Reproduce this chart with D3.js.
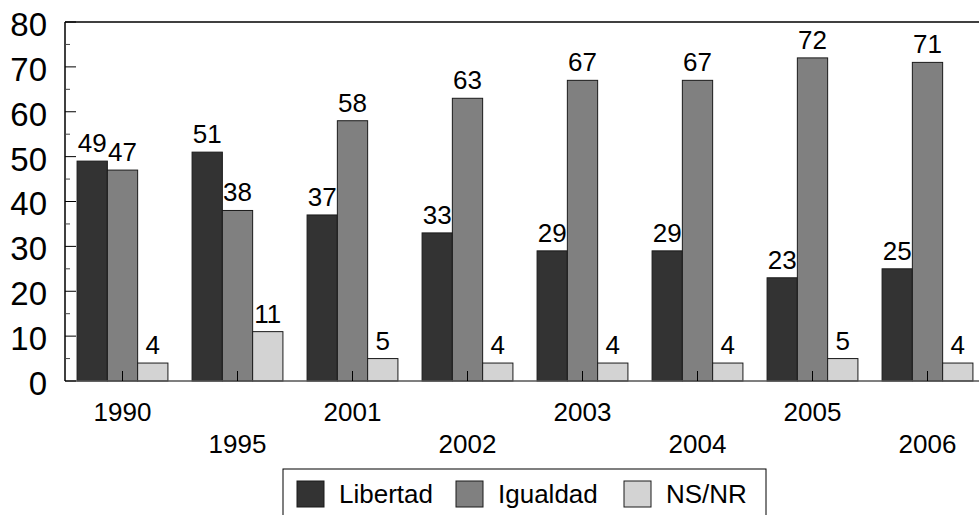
<!DOCTYPE html>
<meta charset="utf-8">
<style>
body { margin: 0; background: #fff; }
text { font-family: "Liberation Sans", Arial, sans-serif; fill: #000; }
</style>
<body>
<script src="https://d3js.org/d3.v7.min.js"></script>
<script>

// data
var years = ["1990", "1995", "2001", "2002", "2003", "2004", "2005", "2006"];
var series = ["Libertad", "Igualdad", "NS/NR"];
var libertad = [49, 51, 37, 33, 29, 29, 23, 25];
var igualdad = [47, 38, 58, 63, 67, 67, 72, 71];
var nsnr = [4, 11, 5, 4, 4, 4, 5, 4];
var yTicks = [0, 10, 20, 30, 40, 50, 60, 70, 80];
var colors = ["#333333", "#808080", "#d3d3d3"];

var values = [libertad, igualdad, nsnr];

var margin = {top: 22, left: 65},
    width = 920, height = 359;

var svg = d3.select("body").append("svg")
    .attr("width", 979).attr("height", 515);

var g = svg.append("g")
    .attr("transform", "translate(" + margin.left + "," + margin.top + ")");

var x0 = d3.scaleBand().domain(years).range([0, width]).paddingInner(0.21).paddingOuter(0.105);
var x1 = d3.scaleBand().domain(series).range([0, x0.bandwidth()]);
var y = d3.scaleLinear().domain([0, 80]).range([height, 0]);

// frame top line
g.append("line").attr("x1", 0).attr("x2", width + 10).attr("y1", 0).attr("y2", 0)
    .attr("stroke", "#000").attr("stroke-width", 1.5);

// bars
var groups = g.selectAll(".grp").data(years).enter().append("g")
    .attr("transform", function (d) { return "translate(" + x0(d) + ",0)"; });

series.forEach(function (s, si) {
    groups.append("rect")
        .attr("x", x1(s))
        .attr("width", x1.bandwidth())
        .attr("y", function (d, i) { return y(values[si][i]); })
        .attr("height", function (d, i) { return height - y(values[si][i]); })
        .attr("fill", colors[si])
        .attr("stroke", "#1a1a1a").attr("stroke-width", 1);
    groups.append("text")
        .attr("x", x1(s) + x1.bandwidth() / 2)
        .attr("y", function (d, i) { return y(values[si][i]) - 9; })
        .attr("text-anchor", "middle")
        .attr("font-size", 26)
        .text(function (d, i) { return values[si][i]; });
});

// x axis
g.append("line").attr("x1", 0).attr("x2", width + 10).attr("y1", height).attr("y2", height)
    .attr("stroke", "#555").attr("stroke-width", 1.5);
g.selectAll(".xtick").data(years).enter().append("line")
    .attr("x1", function (d) { return x0(d) + x0.bandwidth() / 2; })
    .attr("x2", function (d) { return x0(d) + x0.bandwidth() / 2; })
    .attr("y1", height - 10).attr("y2", height)
    .attr("stroke", "#000");
g.selectAll(".xlab").data(years).enter().append("text")
    .attr("x", function (d) { return x0(d) + x0.bandwidth() / 2; })
    .attr("y", function (d, i) { return height + (i % 2 ? 62.5 : 31); })
    .attr("dy", "0.36em")
    .attr("text-anchor", "middle").attr("font-size", 26)
    .text(function (d) { return d; });

// y axis
g.append("line").attr("x1", 0).attr("x2", 0).attr("y1", 0).attr("y2", height)
    .attr("stroke", "#000").attr("stroke-width", 1.5);
var minor = d3.range(5, 80, 10);
g.selectAll(".minor").data(minor).enter().append("line")
    .attr("x1", 0).attr("x2", 5).attr("y1", function (d) { return y(d); }).attr("y2", function (d) { return y(d); })
    .attr("stroke", "#444");
g.selectAll(".major").data(yTicks).enter().append("line")
    .attr("x1", 0).attr("x2", 11).attr("y1", function (d) { return y(d); }).attr("y2", function (d) { return y(d); })
    .attr("stroke", "#000");
g.selectAll(".ylab").data(yTicks).enter().append("text")
    .attr("x", -18).attr("y", function (d) { return y(d) + 2; })
    .attr("dy", "0.36em")
    .attr("text-anchor", "end").attr("font-size", 33)
    .text(function (d) { return d; });

// legend
var lg = svg.append("g").attr("transform", "translate(283,469)");
lg.append("rect").attr("width", 483).attr("height", 60)
    .attr("fill", "#fff").attr("stroke", "#000").attr("stroke-width", 1);
var lx = [14, 173, 341];
series.forEach(function (s, i) {
    lg.append("rect").attr("x", lx[i]).attr("y", 12).attr("width", 27).attr("height", 26)
        .attr("fill", colors[i]).attr("stroke", "#1a1a1a");
    lg.append("text").attr("x", lx[i] + 42).attr("y", 25).attr("dy", "0.36em")
        .attr("font-size", 26).text(s);
});

</script>
</body>
